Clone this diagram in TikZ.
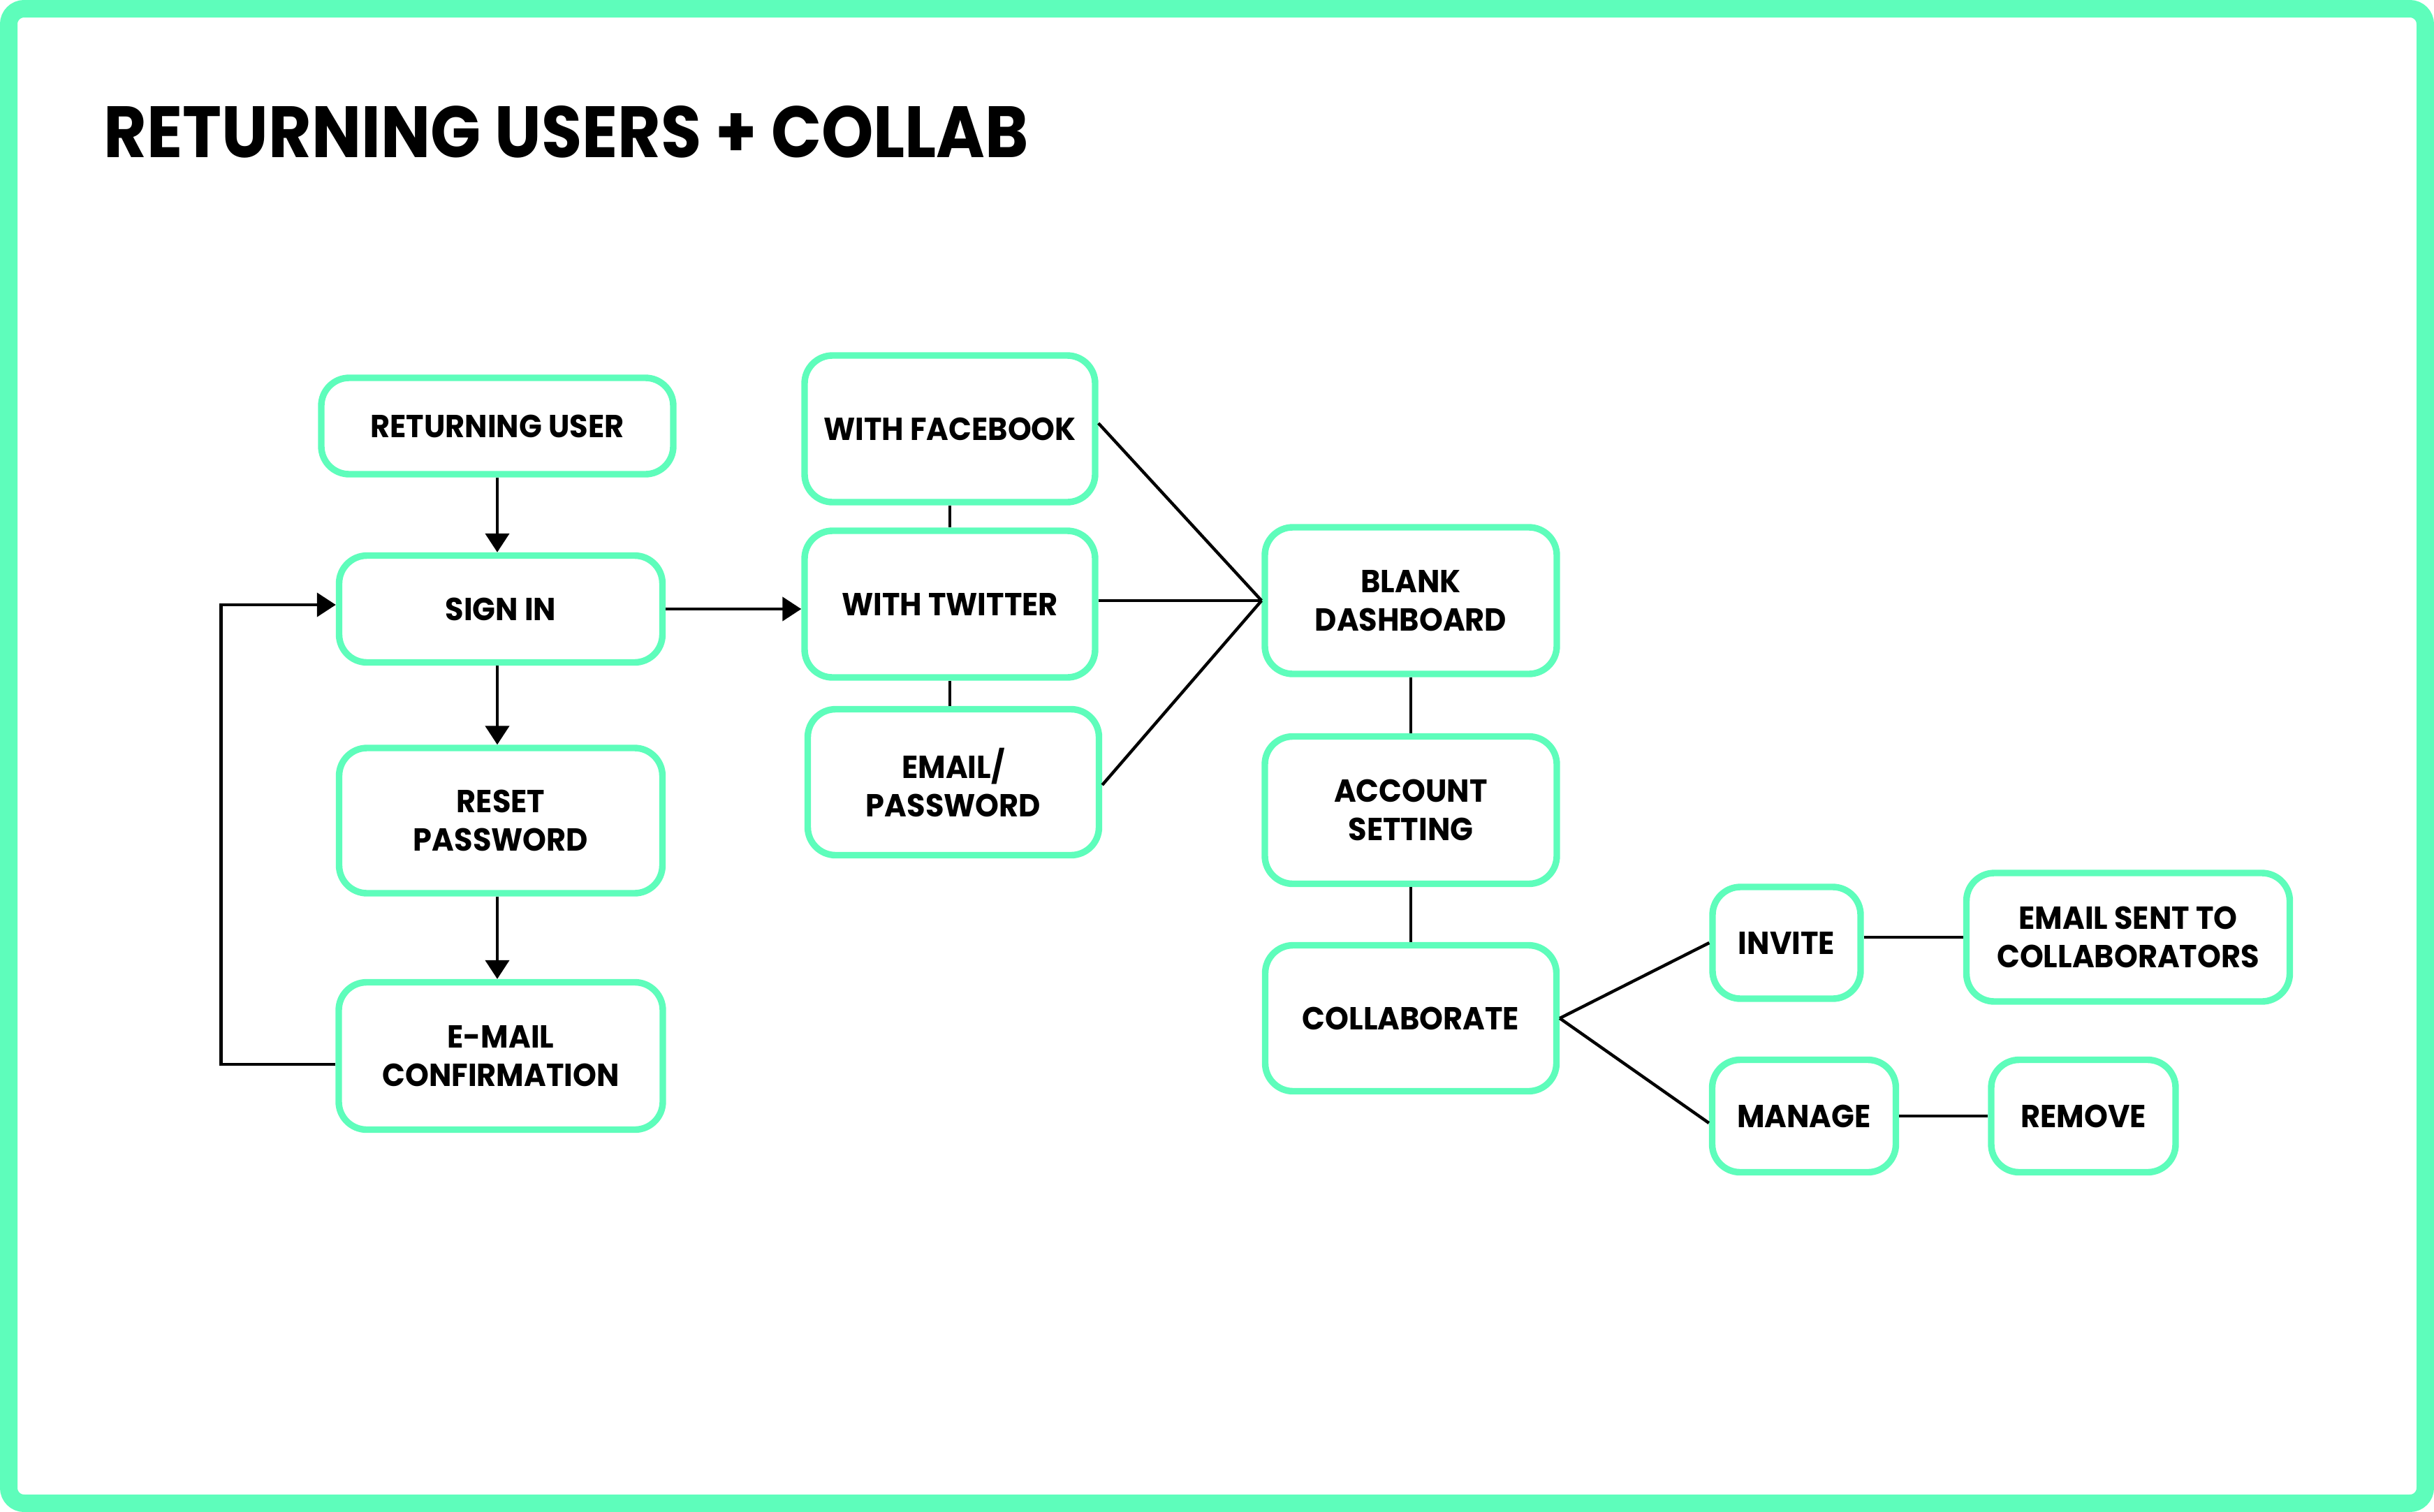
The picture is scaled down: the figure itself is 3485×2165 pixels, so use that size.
\documentclass[tikz,border=0pt]{standalone}
\usepackage{fontspec}
\setmainfont{Poppins}
\newfontfamily\titlefont{Poppins}[FakeStretch=0.91]
\newfontfamily\boxfont{Poppins}[FakeStretch=0.945]
\usetikzlibrary{arrows.meta,calc}
\definecolor{mint}{RGB}{94,253,187}
\begin{document}
\begin{tikzpicture}[x=0.25pt,y=-0.25pt,
  box/.style={draw=mint, line width=2.35pt, rounded corners=10pt, align=center,
    font=\boxfont\bfseries\fontsize{11.4}{13.75}\selectfont, inner sep=0pt, text=black},
  arr/.style={line width=1.15pt, -{Triangle[length=6.75pt,width=8.5pt]}},
  ln/.style={line width=1.1pt}]
\useasboundingbox (0,0) rectangle (3485,2165);
\draw[mint, line width=6.25pt, rounded corners=5.5pt] (12.5,12.5) rectangle (3472.5,2152.5);
\node[anchor=base west, inner sep=0pt, font=\titlefont\bfseries\fontsize{26}{30}\selectfont] (title) at (148,225) {RETURNING USERS + COLLAB};

\node[box, minimum width=126pt, minimum height=34.5pt] (ret) at (712,610) {RETURNING USER};
\node[box, minimum width=115.75pt, minimum height=38.25pt] (sin) at (717,872) {SIGN IN};
\node[box, minimum width=115.75pt, minimum height=52pt] (rst) at (717,1175) {RESET\\PASSWORD};
\node[box, minimum width=116pt, minimum height=52.75pt] (emc) at (717,1512) {E-MAIL\\CONFIRMATION};

\node[box, minimum width=104pt, minimum height=52.5pt] (fb) at (1360,614) {WITH FACEBOOK};
\node[box, minimum width=104pt, minimum height=52.5pt] (tw) at (1360,865) {WITH TWITTER};
\node[box, minimum width=104.25pt, minimum height=52.25pt] (em) at (1365,1120) {EMAIL/\\PASSWORD};

\node[box, minimum width=104.5pt, minimum height=52.5pt] (dash) at (2020,860) {BLANK\\DASHBOARD};
\node[box, minimum width=104.5pt, minimum height=52.75pt] (acc) at (2020,1160) {ACCOUNT\\SETTING};
\node[box, minimum width=104.25pt, minimum height=52.25pt] (col) at (2020,1458) {COLLABORATE};

\node[box, minimum width=53pt, minimum height=40pt] (inv) at (2558,1350) {INVITE};
\node[box, minimum width=115.75pt, minimum height=46pt] (esent) at (3047,1342) {EMAIL SENT TO\\COLLABORATORS};
\node[box, minimum width=65.75pt, minimum height=40.25pt] (man) at (2583,1598) {MANAGE};
\node[box, minimum width=66pt, minimum height=40.25pt] (rem) at (2983,1598) {REMOVE};

% left column arrows
\draw[arr] (ret.south) -- (ret.south |- sin.north);
\draw[arr] (sin.south -| ret.south) -- (ret.south |- rst.north);
\draw[arr] (rst.south -| ret.south) -- (ret.south |- emc.north);
\draw[arr] ([yshift=-3pt]emc.west) -- ++(-164,0) |- ([yshift=1.5pt]sin.west);
\draw[arr] (sin.east) -- (sin.east -| tw.west);

% login options
\draw[ln] (fb.south -| tw.north) -- (tw.north);
\draw[ln] (tw.south) -- (tw.south |- em.north);
\draw[ln] ([yshift=2pt]fb.east) -- (dash.west);
\draw[ln] (tw.east |- dash.west) -- (dash.west);
\draw[ln] ([yshift=-1pt]em.east) -- (dash.west);

% right column
\draw[ln] (dash.south) -- (acc.north);
\draw[ln] (acc.south) -- (col.north);
\draw[ln] (col.east) -- (inv.west);
\draw[ln] (col.east) -- ([yshift=-2.5pt]man.west);
\draw[ln] (inv.east |- esent.west) -- (esent.west);
\draw[ln] (man.east) -- (rem.west);
\end{tikzpicture}
\end{document}
